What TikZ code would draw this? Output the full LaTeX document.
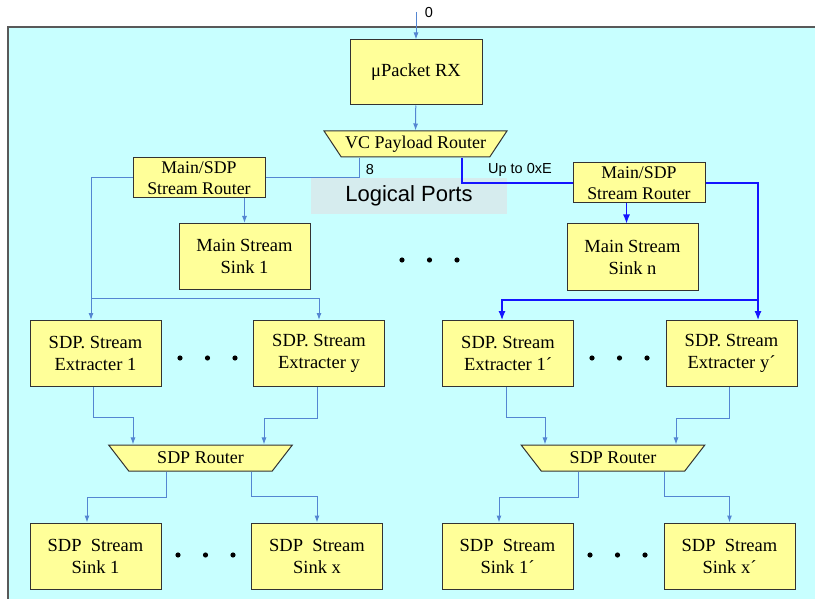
\documentclass[tikz,border=0pt]{standalone}
\usepackage{fontspec}
\setmainfont{Liberation Serif}
\newfontfamily\arialfont{Liberation Sans}
\usetikzlibrary{shapes.geometric,arrows.meta}
\definecolor{panelcyan}{RGB}{200,255,255}
\definecolor{boxyellow}{RGB}{255,255,153}
\definecolor{linkblue}{RGB}{84,134,210}
\definecolor{hotblue}{RGB}{20,20,255}
\definecolor{portgray}{RGB}{214,236,238}

\begin{document}
\begin{tikzpicture}[x=1pt,y=-1pt,
  blk/.style={draw=black!80, fill=boxyellow, line width=1pt, align=center,
    inner sep=0pt, font=\fontsize{18.5}{22}\selectfont},
  tall/.style={blk, minimum width=131pt, minimum height=66pt},
  flat/.style={blk, minimum width=132pt, minimum height=40pt,
    font=\fontsize{17.8}{21.5}\selectfont},
  router/.style={blk, trapezium, trapezium angle=135, trapezium stretches=true,
    minimum height=26pt, font=\fontsize{18}{22}\selectfont},
  link/.style={linkblue, line width=1pt, -{Latex[length=7pt,width=5pt]}},
  hot/.style={hotblue, line width=1.2pt, -{Latex[length=9pt,width=7pt]}},
  lbl/.style={font=\arialfont\fontsize{14.5}{16}\selectfont}]
\useasboundingbox (0,0) rectangle (815,599);
% panel
\fill[panelcyan] (8,27) rectangle (815,599);
\draw[gray!70!black, line width=1.2pt] (8,599) -- (8,27) -- (815,27);
% logical ports band
\node[fill=portgray, minimum width=196pt, minimum height=36pt,
  font=\arialfont\fontsize{22}{24}\selectfont] (ports) at (409,196) {Logical Ports};

% receiver and VC router
\coordinate (in) at (416,12);
\node[lbl] (zero) at (429,13) {0};
\node[tall, minimum width=132pt, minimum height=65pt] (rx) at (416,72.5) {μPacket RX};
\node[router, minimum width=183pt] (vcr) at (415.5,144) {VC Payload Router};
\draw[link] (in) -- (rx);
\draw[link] (rx) -- (vcr);

% main/sdp routers and main sinks
\node[flat] (msr1) at (199,178) {Main/SDP\\Stream Router};
\node[flat] (msrn) at (639,183) {Main/SDP\\Stream Router};
\node[tall] (ms1) at (244.5,256.5) {Main Stream\\Sink 1};
\node[tall] (msn) at (632.5,257) {Main Stream\\Sink n};
\node[lbl] (eight) at (370,170) {8};
\node[lbl] (upto) at (520,170) {Up to 0xE};
\draw[link, -] ([xshift=-56.5pt]vcr.south) |- (msr1.east);
\draw[hot, -] ([xshift=46.5pt]vcr.south) |- (msrn.west);
\draw[link] (ms1.north |- msr1.south) -- (ms1.north);
\draw[hot] ([xshift=-6pt]msn.north |- msrn.south) -- ([xshift=-6pt]msn.north);

% extracters, routers, sinks
\foreach \nm/\x/\y/\txt in {
    xa1/95.5/353.5/{SDP. Stream\\Extracter 1},
    xay/319/353.5/{SDP. Stream\\Extracter y},
    xb1/508/353.5/{SDP. Stream\\Extracter 1´},
    xby/731.5/353.5/{SDP. Stream\\Extracter y´},
    ka1/95.5/556/{SDP\ \ Stream\\Sink 1},
    kax/317/556/{SDP\ \ Stream\\Sink x},
    kb1/507.5/556/{SDP\ \ Stream\\Sink 1´},
    kbx/729.5/556/{SDP\ \ Stream\\Sink x´}} {
    \node[tall] (\nm) at (\x,\y) {\txt};
}
\node[router, minimum width=184pt] (sra) at (200.5,458) {SDP Router};
\node[router, minimum width=184pt] (srb) at (613,458) {SDP Router};

% fan out to extracters
\coordinate (fan1) at (91,298);
\coordinate (fann) at (758,300);
\draw[link] (msr1.west) -| ([xshift=-4.5pt]xa1.north);
\draw[link] (fan1) -| (xay.north);
\draw[hot] (msrn.east) -| ([xshift=26.5pt]xby.north);
\draw[hot] (fann) -| ([xshift=-6pt]xb1.north);

% extracters into sdp routers
\draw[link] ([xshift=-2.5pt]xa1.south) -- ++(0,30) -| ([xshift=-67.5pt]sra.north);
\draw[link] ([xshift=-2pt]xay.south) -- ++(0,31) -| ([xshift=63.5pt]sra.north);
\draw[link] ([xshift=-2pt]xb1.south) -- ++(0,30) -| ([xshift=-68pt]srb.north);
\draw[link] ([xshift=-2.5pt]xby.south) -- ++(0,31) -| ([xshift=63pt]srb.north);

% sdp routers into sinks
\draw[link] ([xshift=-34.5pt]sra.south) -- ++(0,26) -| ([xshift=-8.5pt]ka1.north);
\draw[link] ([xshift=50.5pt]sra.south) -- ++(0,25) -| (kax.north);
\draw[link] ([xshift=-35pt]srb.south) -- ++(0,26) -| ([xshift=-8.5pt]kb1.north);
\draw[link] ([xshift=51pt]srb.south) -- ++(0,25) -| (kbx.north);

% ellipsis dots
\foreach \x/\y in {402/260, 180/358, 592/358, 178/555, 590/555} {
    \fill (\x,\y) circle (2.6pt) ++(27.5,0) circle (2.6pt) ++(27.5,0) circle (2.6pt);
}
\end{tikzpicture}
\end{document}
